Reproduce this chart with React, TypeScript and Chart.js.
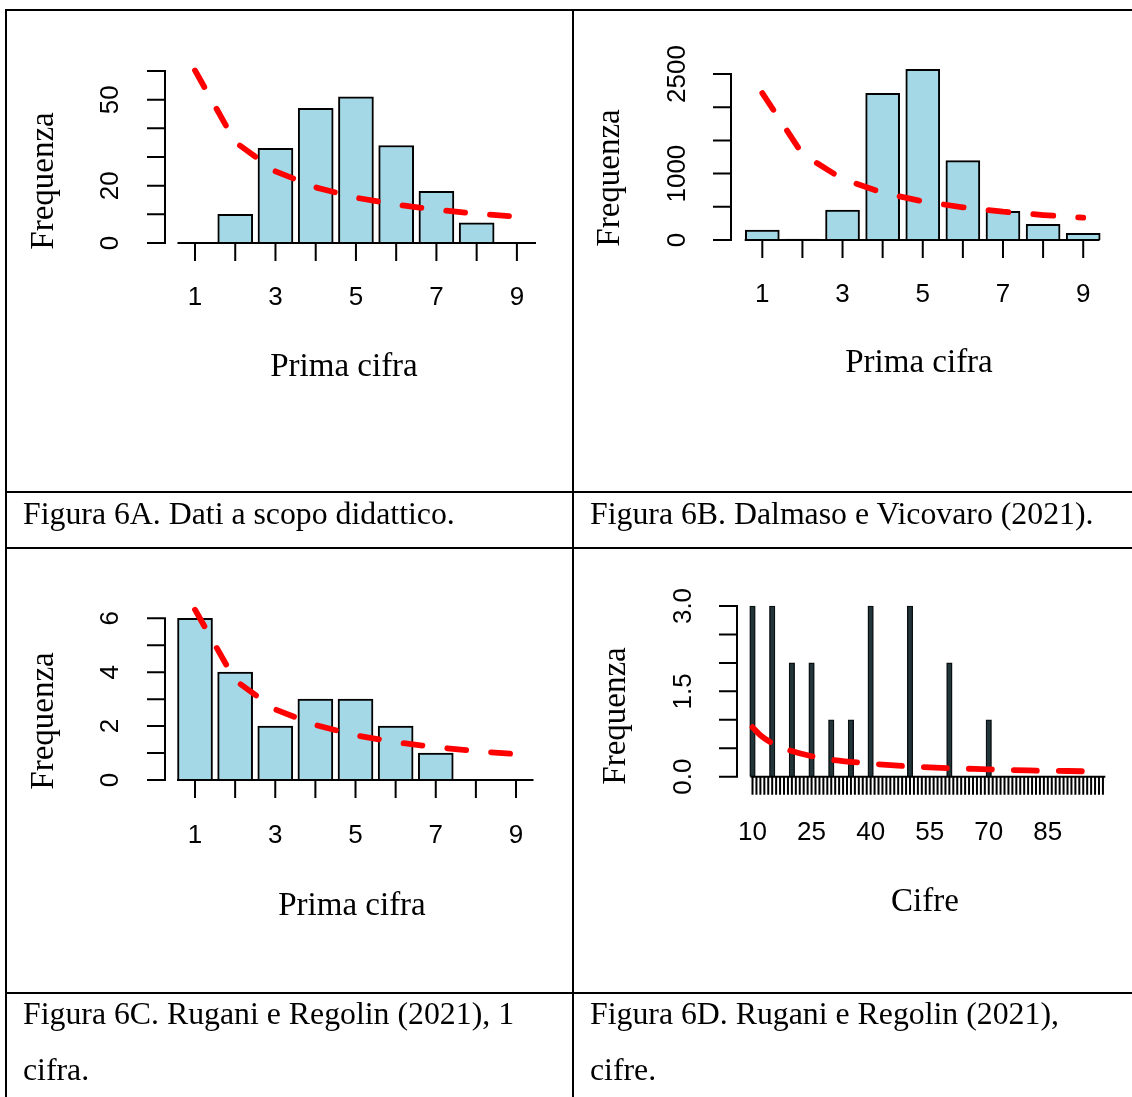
import React, { useEffect, useRef } from 'react';
import { Chart, registerables } from 'chart.js';

Chart.register(...registerables);

// ---------------- Data ----------------
const digits = [1, 2, 3, 4, 5, 6, 7, 8, 9];
const digitTickValues = [1, 3, 5, 7, 9];
const digitTickLabels = ['1', '3', '5', '7', '9'];

const freqA = [0, 10, 33, 47, 51, 34, 18, 7, 0];
const benfordA = [60.2, 35.2, 25.0, 19.4, 15.8, 13.4, 11.6, 10.2, 9.2];
const yTicksA = [0, 10, 20, 30, 40, 50, 60];
const yTickLabelsA = ['0', '', '20', '', '', '50', ''];

const freqB = [150, 15, 450, 2210, 2570, 1195, 430, 235, 100];
const benfordB = [2213, 1294, 918, 712, 582, 492, 426, 376, 336];
const yTicksB = [0, 500, 1000, 1500, 2000, 2500];
const yTickLabelsB = ['0', '', '1000', '', '', '2500'];

const freqC = [6, 4, 2, 3, 3, 2, 1, 0, 0];
const benfordC = [6.32, 3.7, 2.62, 2.04, 1.66, 1.4, 1.22, 1.07, 0.96];
const yTicksC = [0, 1, 2, 3, 4, 5, 6];
const yTickLabelsC = ['0', '', '2', '', '4', '', '6'];

const numbersD = [10, 15, 20, 25, 30, 35, 40, 50, 60, 70];
const freqD = [3, 3, 2, 2, 1, 1, 3, 3, 2, 1];
const benfordXD = [10, 12, 15, 20, 25, 30, 40, 50, 60, 70, 80, 90, 99];
const benfordD = [0.87, 0.73, 0.59, 0.45, 0.36, 0.3, 0.23, 0.18, 0.15, 0.13, 0.11, 0.1, 0.09];
const yTicksD = [0, 0.5, 1, 1.5, 2, 2.5, 3];
const yTickLabelsD = ['0.0', '', '', '1.5', '', '', '3.0'];
const xTicksD = Array.from({ length: 90 }, (_, i) => 10 + i);
const xTickValuesD = [10, 25, 40, 55, 70, 85];
const xTickLabelsD = ['10', '25', '40', '55', '70', '85'];

// ---------------- Layout ----------------
type PanelCfg = {
  canvas: { left: number; top: number; width: number; height: number };
  plot: { left: number; right: number; top: number; bottom: number };
  xMin: number;
  xMax: number;
  yMax: number;
  barX: number[];
  barY: number[];
  lineX: number[];
  lineY: number[];
  smooth: boolean;
  dash: number[];
  barThickness: number;
  barColor: string;
  barBorder: string;
  barBorderWidth: number;
  yTicks: number[];
  yTickLabels: string[];
  xTicks: number[];
  xTickValues: number[];
  xTickLabels: string[];
  xTickWidth: number;
  yAxisX: number;
  tickLen: number;
  yLabelX: number;
  xLabelY: number;
  tickFont: number;
  titleFont: number;
  xTitle: string;
  xTitleX: number;
  xTitleY: number;
  yTitle: string;
  yTitleX: number;
  yTitleY: number;
};

const LIGHTBLUE = '#a4d8e6';

const panelA: PanelCfg = {
  canvas: { left: 7, top: 12, width: 565, height: 478 },
  plot: { left: 177.5, right: 536, top: 71, bottom: 243 },
  xMin: 0.565, xMax: 9.475, yMax: 60,
  barX: digits, barY: freqA, lineX: digits, lineY: benfordA, smooth: false, dash: [19, 25],
  barThickness: 35, barColor: LIGHTBLUE, barBorder: '#000', barBorderWidth: 2,
  yTicks: yTicksA, yTickLabels: yTickLabelsA,
  xTicks: digits, xTickValues: digitTickValues, xTickLabels: digitTickLabels, xTickWidth: 2,
  yAxisX: 165, tickLen: 18, yLabelX: 111, xLabelY: 298, tickFont: 26, titleFont: 33,
  xTitle: 'Prima cifra', xTitleX: 344, xTitleY: 367,
  yTitle: 'Frequenza', yTitleX: 44, yTitleY: 181,
};

const panelB: PanelCfg = {
  canvas: { left: 574, top: 12, width: 558, height: 478 },
  plot: { left: 744.7, right: 1099.5, top: 74, bottom: 240 },
  xMin: 0.561, xMax: 9.406, yMax: 2500,
  barX: digits, barY: freqB, lineX: digits, lineY: benfordB, smooth: false, dash: [20, 25],
  barThickness: 34, barColor: LIGHTBLUE, barBorder: '#000', barBorderWidth: 2,
  yTicks: yTicksB, yTickLabels: yTickLabelsB,
  xTicks: digits, xTickValues: digitTickValues, xTickLabels: digitTickLabels, xTickWidth: 2,
  yAxisX: 731, tickLen: 18, yLabelX: 678, xLabelY: 295, tickFont: 26, titleFont: 33,
  xTitle: 'Prima cifra', xTitleX: 919, xTitleY: 363,
  yTitle: 'Frequenza', yTitleX: 610, yTitleY: 178,
};

const panelC: PanelCfg = {
  canvas: { left: 7, top: 550, width: 565, height: 441 },
  plot: { left: 177, right: 533.5, top: 618.3, bottom: 780 },
  xMin: 0.551, xMax: 9.436, yMax: 6,
  barX: digits, barY: freqC, lineX: digits, lineY: benfordC, smooth: false, dash: [19, 25],
  barThickness: 35, barColor: LIGHTBLUE, barBorder: '#000', barBorderWidth: 2,
  yTicks: yTicksC, yTickLabels: yTickLabelsC,
  xTicks: digits, xTickValues: digitTickValues, xTickLabels: digitTickLabels, xTickWidth: 2,
  yAxisX: 165, tickLen: 18, yLabelX: 111, xLabelY: 836, tickFont: 26, titleFont: 33,
  xTitle: 'Prima cifra', xTitleX: 352, xTitleY: 906,
  yTitle: 'Frequenza', yTitleX: 44, yTitleY: 721,
};

const panelD: PanelCfg = {
  canvas: { left: 574, top: 550, width: 558, height: 441 },
  plot: { left: 750.5, right: 1105.3, top: 606, bottom: 776.7 },
  xMin: 9.49, xMax: 99.6, yMax: 3,
  barX: numbersD, barY: freqD, lineX: benfordXD, lineY: benfordD, smooth: true, dash: [23, 22],
  barThickness: 5.5, barColor: '#22353a', barBorder: '#0a0f10', barBorderWidth: 1.4,
  yTicks: yTicksD, yTickLabels: yTickLabelsD,
  xTicks: xTicksD, xTickValues: xTickValuesD, xTickLabels: xTickLabelsD, xTickWidth: 2,
  yAxisX: 737, tickLen: 18, yLabelX: 684, xLabelY: 833, tickFont: 26, titleFont: 33,
  xTitle: 'Cifre', xTitleX: 925, xTitleY: 902,
  yTitle: 'Frequenza', yTitleX: 616, yTitleY: 716,
};

const panels = [panelA, panelB, panelC, panelD];

// ---------------- R-style axes plugin ----------------
function makeAxesPlugin(p: PanelCfg) {
  return {
    id: 'rAxes',
    afterDatasetsDraw(chart: any) {
      const ctx: CanvasRenderingContext2D = chart.ctx;
      const xs = chart.scales.x;
      const ys = chart.scales.y;
      const ox = p.canvas.left;
      const oy = p.canvas.top;
      const ax = p.yAxisX - ox;
      ctx.save();
      ctx.strokeStyle = '#000';
      ctx.lineWidth = 2;
      ctx.lineCap = 'butt';
      // y axis
      ctx.beginPath();
      ctx.moveTo(ax, ys.getPixelForValue(p.yTicks[0]) + 1);
      ctx.lineTo(ax, ys.getPixelForValue(p.yTicks[p.yTicks.length - 1]) - 1);
      for (const v of p.yTicks) {
        const py = ys.getPixelForValue(v);
        ctx.moveTo(ax - p.tickLen, py);
        ctx.lineTo(ax + 1, py);
      }
      ctx.stroke();
      // baseline
      const y0 = ys.getPixelForValue(0);
      ctx.beginPath();
      ctx.moveTo(chart.chartArea.left, y0);
      ctx.lineTo(chart.chartArea.right, y0);
      ctx.stroke();
      // x ticks
      ctx.lineWidth = p.xTickWidth;
      ctx.beginPath();
      for (const v of p.xTicks) {
        const px = xs.getPixelForValue(v);
        ctx.moveTo(px, y0);
        ctx.lineTo(px, y0 + p.tickLen);
      }
      ctx.stroke();
      // tick labels
      ctx.fillStyle = '#000';
      ctx.textAlign = 'center';
      ctx.textBaseline = 'middle';
      ctx.font = `${p.tickFont}px "Liberation Sans", Arial, sans-serif`;
      p.xTickValues.forEach((v, i) => {
        ctx.fillText(p.xTickLabels[i], xs.getPixelForValue(v), p.xLabelY - oy);
      });
      p.yTicks.forEach((v, i) => {
        const t = p.yTickLabels[i];
        if (!t) return;
        ctx.save();
        ctx.translate(p.yLabelX - ox, ys.getPixelForValue(v));
        ctx.rotate(-Math.PI / 2);
        ctx.fillText(t, 0, 0);
        ctx.restore();
      });
      // titles
      ctx.font = `${p.titleFont}px "Liberation Serif", "Times New Roman", serif`;
      ctx.fillText(p.xTitle, p.xTitleX - ox, p.xTitleY - oy);
      ctx.save();
      ctx.translate(p.yTitleX - ox, p.yTitleY - oy);
      ctx.rotate(-Math.PI / 2);
      ctx.fillText(p.yTitle, 0, 0);
      ctx.restore();
      ctx.restore();
    },
  };
}

function Panel({ p }: { p: PanelCfg }) {
  const ref = useRef<HTMLCanvasElement>(null);
  useEffect(() => {
    const canvas = ref.current;
    if (!canvas) return;
    const c = p.canvas;
    const chart = new Chart(canvas, {
      type: 'bar',
      data: {
        datasets: [
          {
            type: 'line',
            data: p.lineX.map((x, i) => ({ x, y: p.lineY[i] })),
            borderColor: '#ff0000',
            borderWidth: 5.8,
            borderDash: p.dash,
            borderCapStyle: 'round',
            borderJoinStyle: 'round',
            pointRadius: 0,
            tension: 0,
            cubicInterpolationMode: p.smooth ? 'monotone' : 'default',
            fill: false,
            clip: false,
            order: 0,
          } as any,
          {
            type: 'bar',
            data: p.barX.map((x, i) => ({ x, y: p.barY[i] })),
            backgroundColor: p.barColor,
            borderColor: p.barBorder,
            borderWidth: p.barBorderWidth,
            barThickness: p.barThickness,
            clip: false,
            order: 1,
          } as any,
        ],
      },
      options: {
        animation: false,
        responsive: false,
        maintainAspectRatio: false,
        devicePixelRatio: 1,
        events: [],
        layout: {
          padding: {
            left: p.plot.left - c.left,
            right: c.left + c.width - p.plot.right,
            top: p.plot.top - c.top,
            bottom: c.top + c.height - p.plot.bottom,
          },
        },
        plugins: {
          legend: { display: false },
          tooltip: { enabled: false },
          title: { display: false },
        },
        scales: {
          x: { type: 'linear', min: p.xMin, max: p.xMax, display: false, offset: false, bounds: 'data' },
          y: { type: 'linear', min: 0, max: p.yMax, display: false, bounds: 'data' },
        },
      } as any,
      plugins: [makeAxesPlugin(p)],
    });
    return () => chart.destroy();
  }, [p]);
  return (
    <canvas
      ref={ref}
      width={p.canvas.width}
      height={p.canvas.height}
      style={{
        position: 'absolute',
        left: p.canvas.left,
        top: p.canvas.top,
        width: p.canvas.width,
        height: p.canvas.height,
      }}
    />
  );
}

const line = (left: number, top: number, width: number, height: number) => (
  <div style={{ position: 'absolute', left, top, width, height, background: '#000' }} />
);

const captionStyle: React.CSSProperties = {
  position: 'absolute',
  fontFamily: '"Liberation Serif", "Times New Roman", serif',
  fontSize: 31.8,
  lineHeight: '56px',
  color: '#000',
  whiteSpace: 'nowrap',
};

export default function App() {
  return (
    <div
      style={{
        position: 'absolute',
        left: 0,
        top: 0,
        width: 1132,
        height: 1097,
        background: '#fff',
        overflow: 'hidden',
      }}
    >
      {panels.map((p, i) => (
        <Panel key={i} p={p} />
      ))}
      {line(5, 9, 1140, 2)}
      {line(5, 9, 2, 1100)}
      {line(572, 9, 2, 1100)}
      {line(5, 490.5, 1140, 2)}
      {line(5, 547, 1140, 2)}
      {line(5, 991.5, 1140, 2)}
      <div style={{ ...captionStyle, left: 23, top: 486 }}>Figura 6A. Dati a scopo didattico.</div>
      <div style={{ ...captionStyle, left: 590, top: 486 }}>Figura 6B. Dalmaso e Vicovaro (2021).</div>
      <div style={{ ...captionStyle, left: 23, top: 986 }}>
        Figura 6C. Rugani e Regolin (2021), 1
        <br />
        cifra.
      </div>
      <div style={{ ...captionStyle, left: 590, top: 986 }}>
        Figura 6D. Rugani e Regolin (2021),
        <br />
        cifre.
      </div>
    </div>
  );
}
